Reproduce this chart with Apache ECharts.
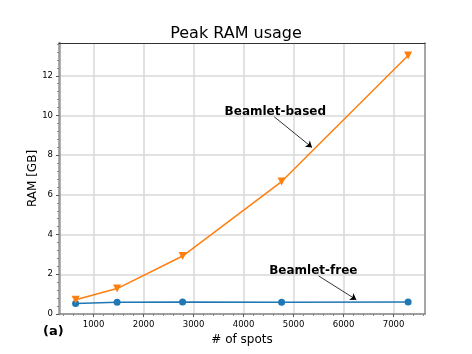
<!DOCTYPE html>
<html>
<head>
<meta charset="utf-8">
<script src="https://cdn.jsdelivr.net/npm/echarts@6/dist/echarts.min.js"></script>
<style>
	html, body { margin: 0; padding: 0; background: #fff; }
	#chart { width: 472px; height: 354px; }
</style>
</head>
<body>
<div id="chart"></div>
<script>
	// data
	const spots = [640, 1470, 2780, 4760, 7290];
	const ramBased = [0.72, 1.28, 2.92, 6.67, 13.02];
	const ramFree = [0.53, 0.59, 0.61, 0.59, 0.61];
	const xTicks = [1000, 2000, 3000, 4000, 5000, 6000, 7000];
	const yTicks = [0, 2, 4, 6, 8, 10, 12];

	const X_MIN = 308, X_MAX = 7628;
	const Y_MIN = 0, Y_MAX = 13.65;
	const FONT = 'DejaVu Sans';

	// minor ticks (matplotlib style)
	const xMinor = [];
	for (let v = 400; v < X_MAX; v += 200) if (v % 1000 !== 0) xMinor.push(v);
	const yMinor = [];
	for (let i = 1; i * 0.4 < Y_MAX; i++) if (i % 5 !== 0) yMinor.push(+(i * 0.4).toFixed(1));

	const pair = (xs, ys) => xs.map((x, i) => [x, ys[i]]);

	const chart = echarts.init(document.getElementById('chart'));
	const option = {
		animation: false,
		backgroundColor: '#fff',
		title: {
			text: 'Peak RAM usage',
			left: 'center',
			top: 21,
			textStyle: { fontFamily: FONT, fontSize: 16, fontWeight: 'normal', color: '#000' }
		},
		graphic: [{
			type: 'text',
			left: 43,
			top: 325,
			style: { text: '(a)', fontFamily: FONT, fontSize: 13, fontWeight: 'bold', fill: '#000' }
		}],
		grid: { left: 59, right: 47, top: 43, bottom: 40 },
		xAxis: [
			{
				type: 'value', min: X_MIN, max: X_MAX, position: 'bottom',
				name: '# of spots', nameLocation: 'middle', nameGap: 17,
				nameTextStyle: { fontFamily: FONT, fontSize: 12, color: '#000' },
				axisLine: { onZero: false, lineStyle: { color: '#888', width: 1.5 } },
				axisTick: { customValues: xTicks, length: 3, lineStyle: { color: '#555' } },
				axisLabel: {
					customValues: xTicks, fontFamily: FONT, fontSize: 8.5, color: '#000', margin: 6,
					formatter: v => String(v)
				},
				splitLine: { show: true, lineStyle: { color: '#d8d8d8', width: 1.5 } }
			},
			{
				type: 'value', min: X_MIN, max: X_MAX, position: 'bottom',
				axisLine: { show: false, onZero: false },
				axisTick: { customValues: xMinor, length: 2, lineStyle: { color: '#888' } },
				axisLabel: { show: false },
				splitLine: { show: false }
			},
			{
				type: 'value', min: X_MIN, max: X_MAX, position: 'top',
				axisLine: { onZero: false, lineStyle: { color: '#333', width: 1 } },
				axisTick: { show: false }, axisLabel: { show: false }, splitLine: { show: false }
			}
		],
		yAxis: [
			{
				type: 'value', min: Y_MIN, max: Y_MAX, position: 'left',
				name: 'RAM [GB]', nameLocation: 'middle', nameGap: 20, nameMoveOverlap: false,
				nameTextStyle: { fontFamily: FONT, fontSize: 12, color: '#000' },
				axisLine: { show: true, onZero: false, lineStyle: { color: '#999', width: 2.5 } },
				axisTick: { customValues: yTicks, length: 3, lineStyle: { color: '#555' } },
				axisLabel: { customValues: yTicks, fontFamily: FONT, fontSize: 8.5, color: '#000', margin: 6 },
				splitLine: { show: true, lineStyle: { color: '#d8d8d8', width: 1.5 } }
			},
			{
				type: 'value', min: Y_MIN, max: Y_MAX, position: 'left',
				axisLine: { show: false, onZero: false },
				axisTick: { customValues: yMinor, length: 2, lineStyle: { color: '#888' } },
				axisLabel: { show: false },
				splitLine: { show: false }
			},
			{
				type: 'value', min: Y_MIN, max: Y_MAX, position: 'right',
				axisLine: { show: true, onZero: false, lineStyle: { color: '#888', width: 1.5 } },
				axisTick: { show: false }, axisLabel: { show: false }, splitLine: { show: false }
			}
		],
		series: [
			{
				name: 'Beamlet-free',
				type: 'line',
				data: pair(spots, ramFree),
				symbol: 'circle',
				symbolSize: 7,
				lineStyle: { color: '#1f77b4', width: 1.5 },
				itemStyle: { color: '#1f77b4' },
				z: 3
			},
			{
				name: 'Beamlet-based',
				type: 'line',
				data: pair(spots, ramBased),
				symbol: 'triangle',
				symbolRotate: 180,
				symbolSize: 8,
				lineStyle: { color: '#ff7f0e', width: 1.5 },
				itemStyle: { color: '#ff7f0e' },
				z: 4,
				markLine: {
					silent: true,
					symbol: ['none', 'arrow'],
					symbolSize: 6,
					label: { show: false },
					lineStyle: { color: '#000', width: 0.8, type: 'solid' },
					data: [
						[{ coord: [4614, 9.93] }, { coord: [5368, 8.39] }],
						[{ coord: [5500, 1.92] }, { coord: [6254, 0.72] }]
					]
				},
				markPoint: {
					silent: true,
					symbol: 'rect',
					symbolSize: 1,
					itemStyle: { color: 'rgba(0,0,0,0)' },
					label: {
						show: true, position: 'inside',
						fontFamily: FONT, fontSize: 12, fontWeight: 'bold', color: '#000',
						formatter: p => p.name
					},
					data: [
						{ name: 'Beamlet-based', coord: [4634, 10.18] },
						{ name: 'Beamlet-free', coord: [5394, 2.18] }
					]
				}
			}
		]
	};
	chart.setOption(option);
</script>
</body>
</html>
